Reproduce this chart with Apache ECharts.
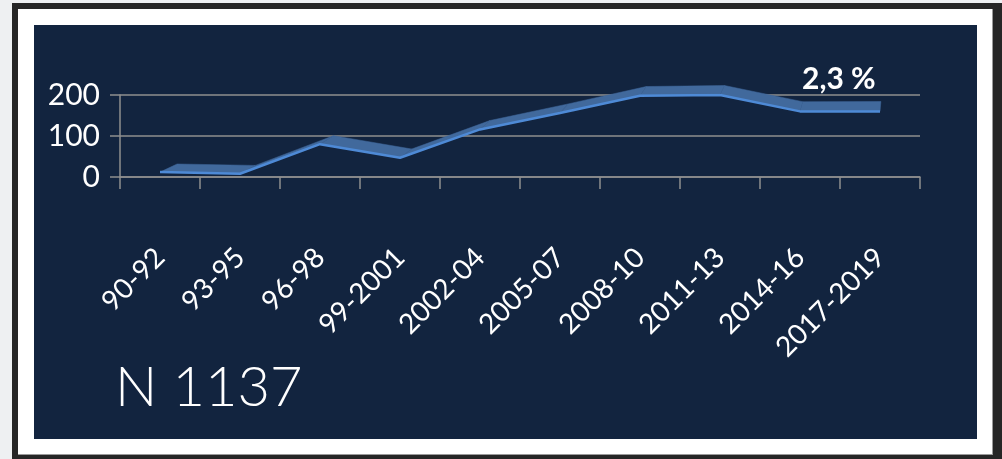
<!DOCTYPE html>
<html>
<head>
<meta charset="utf-8">
<script src="https://cdn.jsdelivr.net/npm/echarts@6/dist/echarts.min.js"></script>
<style>
  html, body { margin: 0; padding: 0; width: 1002px; height: 459px; overflow: hidden; background: #eef0f2; }
  .box { position: absolute; }
  #f1 { left: 12px; top: 3px; width: 990px; height: 456px; background: #262626; }
  #f2 { left: 18px; top: 9px; width: 974px; height: 445px; background: #ffffff; border-right: 1px solid #9a9a9a; border-bottom: 1px solid #9a9a9a; }
  #f3 { left: 34px; top: 25px; width: 943px; height: 414px; background: #12243f; }
  #chart { position: absolute; left: 0; top: 0; width: 1002px; height: 459px; }
</style>
</head>
<body>
<div class="box" id="f1"></div>
<div class="box" id="f2"></div>
<div class="box" id="f3"></div>
<div id="chart"></div>
<script>
// ---- data ----
var periods = ['90-92', '93-95', '96-98', '99-2001', '2002-04', '2005-07', '2008-10', '2011-13', '2014-16', '2017-2019'];
var counts = [12, 8, 80, 47, 116, 156, 198, 200, 160, 160];
var yTicks = [0, 100, 200];
var shareLabel = '2,3 %';
var totalLabel = 'N 1137';

var chart = echarts.init(document.getElementById('chart'), null, { renderer: 'canvas' });

var GRID_LEFT = 120, GRID_RIGHT = 82, GRID_TOP = 95, GRID_BOTTOM = 282;

function ribbonOffset(x) {
  // depth offset of the ribbon's back edge (perspective look)
  var w = 1002 - GRID_LEFT - GRID_RIGHT;
  var t = Math.max(0, Math.min(1, (x - GRID_LEFT) / w));
  return [18 * (1 - t), -(8 + 2 * t)];
}

var option = {
  animation: false,
  backgroundColor: 'transparent',
  grid: { left: GRID_LEFT, right: GRID_RIGHT, top: GRID_TOP, bottom: GRID_BOTTOM, containLabel: false },
  xAxis: {
    type: 'category',
    data: periods,
    boundaryGap: true,
    axisLine: { show: true, lineStyle: { color: '#8f8f8f', width: 1.5 } },
    axisTick: { show: true, length: 12, lineStyle: { color: '#8f8f8f', width: 1.5 } },
    axisLabel: {
      rotate: 45,
      margin: 76,
      color: '#ffffff',
      fontFamily: 'Lato, "Noto Sans", sans-serif',
      fontSize: 28,
      interval: 0
    },
    splitLine: { show: false }
  },
  yAxis: {
    type: 'value',
    min: yTicks[0],
    max: yTicks[yTicks.length - 1],
    interval: yTicks[1] - yTicks[0],
    axisLine: { show: true, lineStyle: { color: '#8f8f8f', width: 1.5 } },
    axisTick: { show: true, length: 10, lineStyle: { color: '#8f8f8f', width: 1.5 } },
    axisLabel: {
      margin: 20,
      color: '#ffffff',
      fontFamily: 'Lato, "Noto Sans", sans-serif',
      fontSize: 30
    },
    splitLine: { show: true, lineStyle: { color: '#8f8f8f', width: 1.5 } }
  },
  series: [
    {
      type: 'custom',
      name: 'ribbon',
      z: 2,
      data: counts.map(function (v, i) { return [i, v]; }),
      encode: { x: 0, y: 1 },
      renderItem: function (params, api) {
        var i = params.dataIndex;
        if (i >= counts.length - 1) { return null; }
        var p1 = api.coord([i, counts[i]]);
        var p2 = api.coord([i + 1, counts[i + 1]]);
        var o1 = ribbonOffset(p1[0]);
        var o2 = ribbonOffset(p2[0]);
        return {
          type: 'polygon',
          shape: { points: [p1, p2, [p2[0] + o2[0], p2[1] + o2[1]], [p1[0] + o1[0], p1[1] + o1[1]]] },
          style: { fill: '#41699c', stroke: '#41699c', lineWidth: 0.5 }
        };
      }
    },
    {
      type: 'line',
      name: 'count',
      z: 3,
      data: counts,
      symbol: 'none',
      lineStyle: { color: '#4e8ad6', width: 2.5 }
    }
  ],
  graphic: [
    {
      type: 'text',
      left: 802,
      top: 64,
      z: 10,
      style: {
        text: shareLabel,
        fill: '#ffffff',
        font: 'bold 30px Lato, "Noto Sans", sans-serif'
      }
    },
    {
      type: 'text',
      left: 115,
      top: 360,
      style: {
        text: totalLabel,
        fill: '#ffffff',
        font: '300 56px Lato, "Noto Sans", sans-serif'
      }
    }
  ]
};

chart.setOption(option);
</script>
</body>
</html>
